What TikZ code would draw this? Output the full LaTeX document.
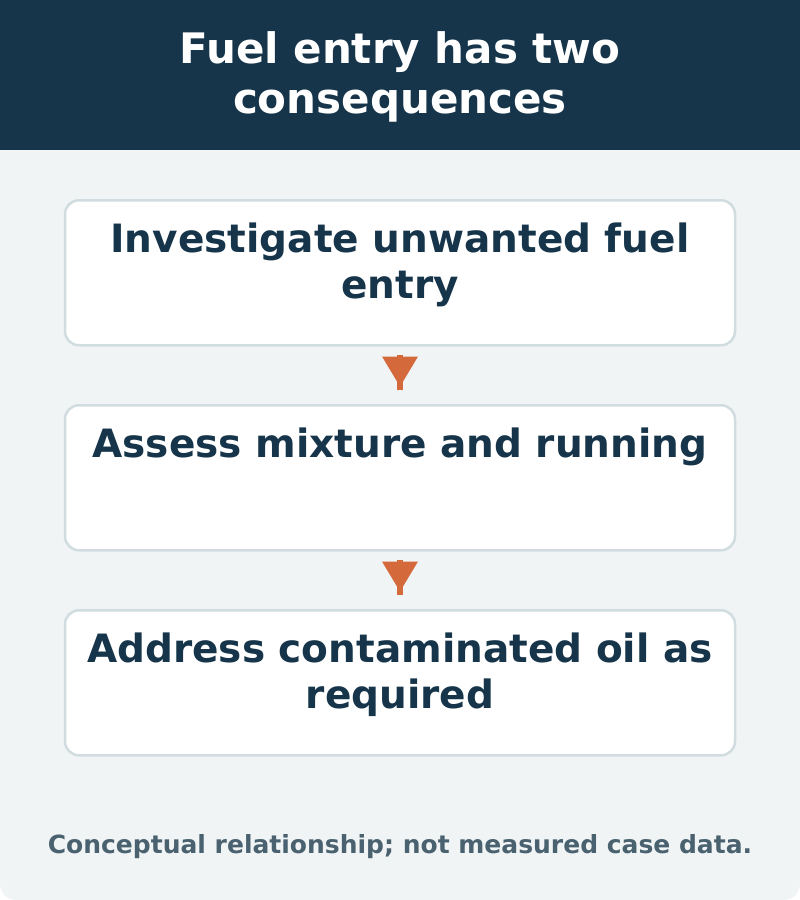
\documentclass[tikz,border=0pt]{standalone}
\usepackage{fontspec}
\setmainfont{DejaVu Sans}
\definecolor{navy}{HTML}{16354A}
\definecolor{bgc}{HTML}{F1F4F5}
\definecolor{boxline}{HTML}{D0DCE0}
\definecolor{arr}{HTML}{D4693C}
\definecolor{foot}{HTML}{4A6270}
\tikzset{
  stepbox/.style={draw=boxline, line width=2.5pt, fill=white, rounded corners=14pt,
    minimum width=670pt, minimum height=145pt, anchor=north, inner sep=0pt},
  boxtext/.style={anchor=base, align=center, text=navy, font=\bfseries\fontsize{39}{46}\selectfont},
  stem/.style={draw=arr, line width=5.5pt},
}
\begin{document}
\begin{tikzpicture}[x=1pt,y=-1pt]
\useasboundingbox (0,0) rectangle (800,900);
% background
\fill[bgc, rounded corners=16pt] (0,0) -- (0,900) -- (800,900) -- (800,0) -- cycle;
\fill[navy] (0,0) rectangle (800,150);
\node[anchor=base, align=center, text=white, font=\bfseries\fontsize{42}{50}\selectfont] (title) at (400,113)
  {Fuel entry has two\\consequences};
% boxes
\node[stepbox] (b1) at (400,199) {};
\node[stepbox] (b2) at (400,404) {};
\node[stepbox] (b3) at (400,609) {};
\node[boxtext] (t1) at ([yshift=-99pt]b1.north) {Investigate unwanted fuel\\entry};
\node[boxtext] (t2) at ([yshift=-53pt]b2.north) {Assess mixture and running};
\node[boxtext] (t3) at ([yshift=-99pt]b3.north) {Address contaminated oil as\\required};
% arrows
\foreach \a/\b in {b1/b2,b2/b3}{
  \draw[stem] ([yshift=-8pt]\a.south) -- ([yshift=14pt]\b.north);
  \fill[arr] ([xshift=-18pt,yshift=-10pt]\a.south) -- ([xshift=18pt,yshift=-10pt]\a.south) -- ([yshift=-40pt]\a.south) -- cycle;
}
% footer
\node[anchor=base, text=foot, font=\bfseries\fontsize{25}{30}\selectfont] (foot) at (400,853)
  {Conceptual relationship; not measured case data.};
\end{tikzpicture}
\end{document}
